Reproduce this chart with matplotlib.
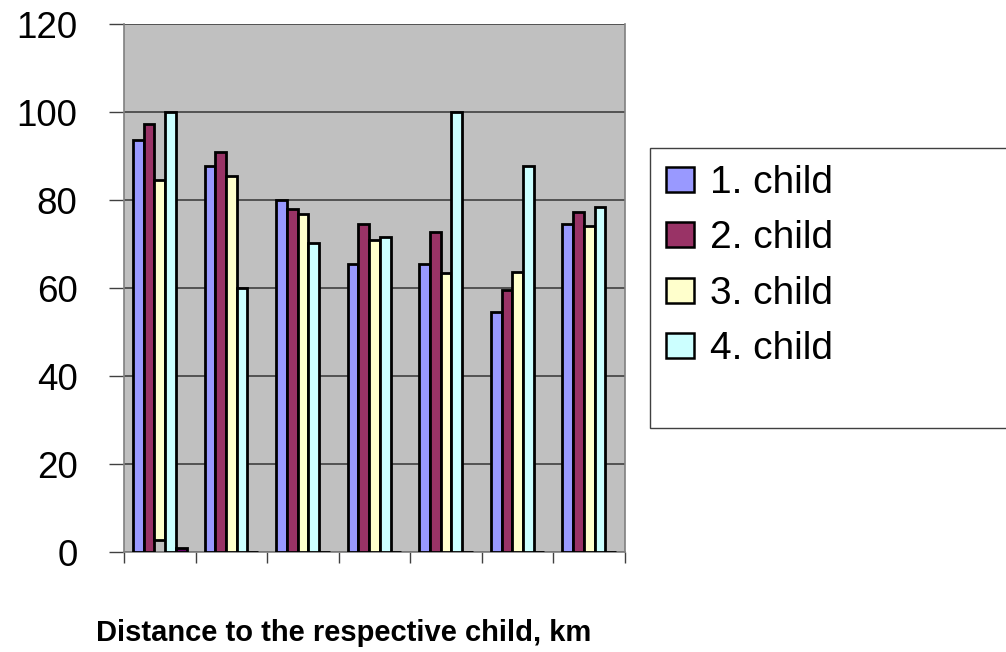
import numpy as np
import matplotlib.pyplot as plt
from matplotlib.patches import Rectangle

plt.rcParams['font.family'] = ['Liberation Sans', 'DejaVu Sans']

# DATA
groups = np.arange(7)
child1 = [93.6, 87.7, 80.0, 65.5, 65.5, 54.5, 74.5]
child2 = [97.3, 90.9, 77.9, 74.5, 72.7, 59.5, 77.3]
child3 = [84.5, 85.5, 76.8, 70.9, 63.3, 63.7, 74.1]
child3_bottom = [2.7, 0, 0, 0, 0, 0, 0]
child4 = [100.0, 60.0, 70.2, 71.5, 100.0, 87.7, 78.3]
child5 = [1.0, 0, 0, 0, 0, 0, 0]
labels = ['1. child', '2. child', '3. child', '4. child']
colors = ['#9999FF', '#993366', '#FFFFCC', '#CCFFFF', '#660066']

fig = plt.figure(figsize=(10.06, 6.52), dpi=100)
ax = fig.add_axes([124/1006, 100/652, 501/1006, 528/652])
ax.set_facecolor('#C0C0C0')

w = 0.15
series = [child1, child2, child3, child4, child5]
bottoms = [None, None, child3_bottom, None, None]
handles = []
for k in range(5):
    vals = np.array(series[k])
    bot = np.zeros(7) if bottoms[k] is None else np.array(bottoms[k])
    b = ax.bar(groups + (k - 2) * w, vals - bot, w, bottom=bot, color=colors[k],
               edgecolor='black', linewidth=2.0, zorder=3)
    handles.append(b)

ax.set_xlim(-0.5, 6.5)
ax.set_ylim(0, 120)
ax.set_yticks(np.arange(0, 121, 20))
ax.yaxis.grid(True, color='#404040', linewidth=1.2, zorder=1)
ax.set_xticks(np.arange(-0.5, 6.6, 1))
ax.set_xticklabels([])
ax.tick_params(axis='x', length=8, width=1, color='#404040', direction='out')
ax.tick_params(axis='y', length=11, width=1, color='#404040', direction='out',
               labelsize=26.5, pad=22.5)
for s in ['left', 'right', 'top', 'bottom']:
    ax.spines[s].set_color('#808080')
    ax.spines[s].set_linewidth(1.2)
ax.spines['top'].set_visible(False)

fig.text(344/1006, 1 - 633/652, 'Distance to the respective child, km',
         ha='center', va='center', fontsize=21, fontweight='bold')

# legend box
fig.patches.append(Rectangle((650/1006, 1 - 428/652), 400/1006, 280/652,
                             transform=fig.transFigure, facecolor='white',
                             edgecolor='#404040', linewidth=1, zorder=-1))
leg = fig.legend(handles[:4], labels, loc='upper left',
                 bbox_to_anchor=(666/1006, 1 - 165/652),
                 frameon=False, fontsize=28,
                 handlelength=0.72, handleheight=0.62, handletextpad=0.4,
                 labelspacing=0.5, borderaxespad=0, borderpad=0)
leg.set_zorder(5)
for h in leg.legend_handles:
    h.set_linewidth(1.8)

fig.savefig('out.png', dpi=100)
